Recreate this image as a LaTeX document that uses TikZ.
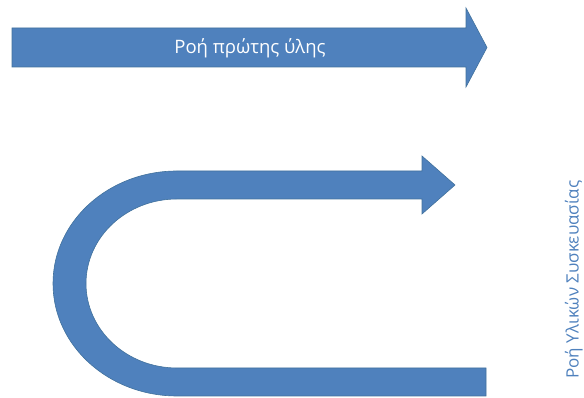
\documentclass[tikz,border=0pt]{standalone}
\usepackage{fontspec}
\setmainfont{Open Sans}
\usepackage{tikz}
\usetikzlibrary{positioning}
\definecolor{flowblue}{HTML}{4F81BD}
\definecolor{flowedge}{HTML}{41719C}

\begin{document}
\begin{tikzpicture}[x=1pt,y=1pt,
	flowarrow/.style={fill=flowblue,draw=flowedge,line width=0.6pt,line join=miter},
	flowtext/.style={inner sep=0pt}]
	\useasboundingbox (0,0) rectangle (584,398);
	\draw[flowarrow] (12,370) -- (466,370) -- (466,390) -- (487,350.5)
	-- (466,311) -- (466,331) -- (12,331) -- cycle;
	\node[flowtext,text=white,anchor=base,font=\fontsize{18.5}{22}\selectfont] (raw) at (250,344.5) {Ροή πρώτης ύλης};
	\draw[flowarrow] (486,2) -- (177,2)
	arc[start angle=270,end angle=90,x radius=124,y radius=112.5]
	-- (422,227) -- (422,242) -- (455,213) -- (422,184) -- (422,199)
	-- (177,199)
	arc[start angle=90,end angle=270,x radius=91,y radius=84.5]
	-- (486,30) -- cycle;
	\node[flowtext,text=flowblue,rotate=90,anchor=base,font=\fontsize{17}{20}\selectfont] (pack) at (578.5,118.5) {Ροή Υλικών Συσκευασίας};
\end{tikzpicture}
\end{document}
